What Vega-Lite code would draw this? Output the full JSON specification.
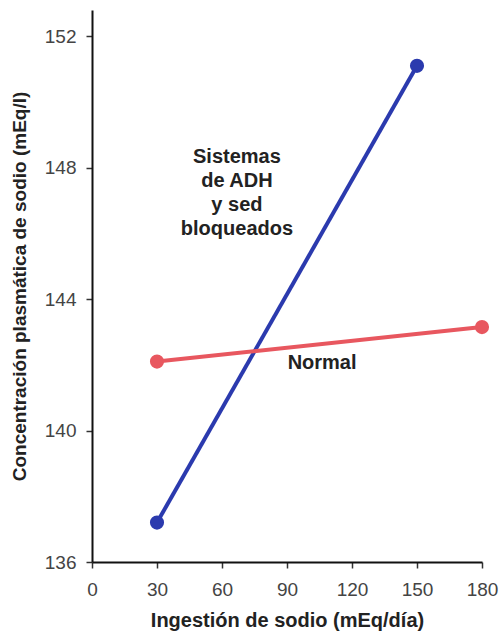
{
  "$schema": "https://vega.github.io/schema/vega-lite/v6.json",
  "width": 390,
  "height": 552,
  "autosize": "none",
  "padding": {"left": 92, "top": 10, "right": 17, "bottom": 70},
  "background": "white",
  "config": {
    "view": {"stroke": null},
    "font": "Liberation Sans"
  },
  "datasets": {
    "lines": [
      {"serie": "ADH", "ingestion": 30, "sodio": 137.2},
      {"serie": "ADH", "ingestion": 150, "sodio": 151.1},
      {"serie": "Normal", "ingestion": 30, "sodio": 142.1},
      {"serie": "Normal", "ingestion": 180, "sodio": 143.15}
    ],
    "labels": [
      {"texto": ["Sistemas", "de ADH", "y sed", "bloqueados"], "ingestion": 66.9, "sodio": 148.33},
      {"texto": ["Normal"], "ingestion": 106.2, "sodio": 142.06}
    ]
  },
  "layer": [
    {
      "data": {"name": "lines"},
      "mark": {"type": "line", "strokeWidth": 4},
      "encoding": {
        "x": {
          "field": "ingestion", "type": "quantitative",
          "scale": {"domain": [0, 180], "nice": false, "zero": false},
          "axis": {
            "values": [0, 30, 60, 90, 120, 150, 180],
            "title": "Ingestión de sodio (mEq/día)",
            "grid": false,
            "domainColor": "#111", "domainWidth": 2,
            "tickColor": "#333", "tickWidth": 1.5, "tickSize": 6,
            "labelFontSize": 19, "labelColor": "#444", "labelPadding": 12,
            "labelFlush": false,
            "titleFontSize": 20, "titleFontWeight": "bold", "titleColor": "#222", "titlePadding": 11
          }
        },
        "y": {
          "field": "sodio", "type": "quantitative",
          "scale": {"domain": [136, 152.8], "nice": false, "zero": false},
          "axis": {
            "values": [136, 140, 144, 148, 152],
            "title": "Concentración plasmática de sodio (mEq/l)",
            "grid": false,
            "domainColor": "#111", "domainWidth": 2,
            "tickColor": "#333", "tickWidth": 1.5, "tickSize": 6,
            "labelFontSize": 19, "labelColor": "#444", "labelPadding": 10,
            "labelFlush": false,
            "titleFontSize": 19, "titleFontWeight": "bold", "titleColor": "#222", "titlePadding": 15
          }
        },
        "color": {
          "field": "serie", "type": "nominal",
          "scale": {"domain": ["ADH", "Normal"], "range": ["#2b3aae", "#e8575f"]},
          "legend": null
        }
      }
    },
    {
      "data": {"name": "lines"},
      "mark": {"type": "point", "filled": true, "opacity": 1, "size": 200},
      "encoding": {
        "x": {"field": "ingestion", "type": "quantitative"},
        "y": {"field": "sodio", "type": "quantitative"},
        "color": {"field": "serie", "type": "nominal", "legend": null}
      }
    },
    {
      "data": {"name": "labels"},
      "mark": {"type": "text", "fontSize": 20, "fontWeight": "bold", "color": "#222", "align": "center", "baseline": "middle", "lineHeight": 24},
      "encoding": {
        "x": {"field": "ingestion", "type": "quantitative"},
        "y": {"field": "sodio", "type": "quantitative"},
        "text": {"field": "texto"}
      }
    }
  ]
}
